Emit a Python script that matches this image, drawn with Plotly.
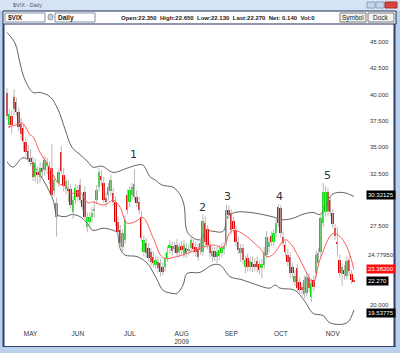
import plotly.graph_objects as go

# ---------------- data ----------------
opens = [40.2,37.1,38.0,39.8,39.3,38.3,37.2,36.8,35.5,34.6,34.0,33.6,32.2,32.6,32.2,33.0,32.8,33.2,33.1,33.0,
         30.8,28.4,31.6,34.5,32.4,31.0,31.0,31.0,28.8,30.0,30.9,31.4,30.0,30.7,27.4,27.9,28.4,28.9,30.0,31.2,
         32.3,31.6,30.2,30.5,30.8,30.6,29.8,27.9,27.1,25.5,26.2,30.5,29.8,30.5,30.3,30.3,29.8,28.4,25.0,25.9,
         25.4,25.0,24.6,23.8,24.1,24.0,23.6,23.6,24.5,25.4,25.6,25.3,25.7,25.0,25.6,24.8,25.4,25.1,25.4,25.9,
         25.5,25.3,25.2,25.0,27.8,27.2,25.6,24.7,25.1,24.6,24.7,24.9,25.3,26.0,29.0,28.7,28.0,27.1,26.0,24.9,
         25.4,23.6,24.5,23.6,24.1,23.9,24.2,23.9,23.5,23.8,24.8,25.5,26.6,26.0,26.8,29.3,29.2,26.5,25.7,24.8,
         24.6,23.6,22.2,23.5,22.2,21.7,21.0,21.1,22.6,20.8,22.4,23.0,24.0,25.0,27.8,28.8,30.7,30.0,28.7,27.3,
         26.0,24.3,22.9,23.3,22.8,24.3,22.9,22.35]
highs = [40.6,38.6,38.5,40.5,39.7,38.8,37.8,37.2,35.9,35.2,34.8,34.1,33.9,33.2,33.6,33.5,34.2,34.0,33.6,35.3,
         32.3,30.2,33.0,35.1,33.0,32.2,31.9,31.5,30.4,31.5,31.4,32.0,30.4,31.3,28.8,28.8,29.3,29.9,31.4,33.0,
         32.8,32.2,30.7,31.6,32.4,31.1,30.3,28.4,27.6,27.2,28.5,31.0,31.3,31.6,32.9,30.9,30.3,28.9,26.6,26.4,
         25.9,25.4,25.1,24.7,24.6,24.4,24.1,24.9,25.6,26.2,26.0,26.0,26.3,25.9,26.1,26.2,25.9,25.8,26.6,26.4,
         26.0,25.8,26.3,28.6,28.4,27.6,26.1,25.5,25.5,25.5,25.7,25.9,26.0,29.5,29.5,29.1,28.4,27.5,26.5,25.8,
         25.8,24.7,24.9,24.6,24.6,24.4,24.6,24.3,24.4,25.5,27.0,26.4,27.0,27.2,28.2,29.6,29.5,27.0,26.1,25.3,
         25.0,24.0,23.3,23.9,22.6,22.1,22.8,23.1,23.0,22.5,22.8,25.2,25.4,28.7,31.6,31.3,31.1,30.4,29.1,27.7,
         27.4,24.8,24.0,23.8,24.6,24.7,23.3,22.65]
lows = [37.6,36.8,36.3,38.0,38.0,36.5,35.7,34.6,34.0,33.5,33.2,31.8,31.7,31.5,31.6,32.0,32.3,32.4,31.5,30.2,
        30.3,26.5,31.2,32.4,30.8,30.5,29.8,29.2,28.2,29.6,29.9,29.7,29.0,28.0,26.9,27.5,27.8,28.3,29.6,30.8,
        31.3,29.7,29.3,29.9,30.4,29.4,27.5,26.5,25.5,25.1,25.8,28.6,29.3,30.0,29.9,29.3,28.6,26.0,24.6,24.5,
        24.1,23.7,23.6,23.4,23.1,22.7,22.8,23.2,24.1,24.9,24.7,25.0,24.6,24.6,24.8,24.5,24.5,24.7,25.0,24.9,
        24.6,24.2,24.8,24.7,25.6,25.3,24.5,24.1,24.2,24.0,24.3,24.5,24.8,25.6,28.2,26.7,26.8,25.6,24.8,24.1,
        23.9,23.0,23.2,23.2,23.1,23.2,23.1,22.9,22.5,23.4,24.4,25.0,25.6,25.6,26.4,27.4,26.4,25.5,24.6,23.7,
        22.6,22.6,21.8,21.2,21.0,20.9,20.6,20.8,21.2,20.3,21.3,22.6,23.6,24.6,27.4,28.4,28.5,28.4,27.3,26.2,
        24.6,22.6,21.8,22.4,22.4,22.8,22.0,22.13]
closes = [38.0,38.2,37.1,38.6,38.3,36.9,36.3,35.6,34.5,33.9,33.6,32.2,33.5,32.4,33.0,32.6,33.8,33.6,31.9,30.5,
          31.9,29.7,32.6,32.7,31.3,31.8,30.8,29.5,30.0,31.1,30.3,30.0,29.3,28.4,28.4,28.4,28.7,29.1,30.9,32.6,
          31.9,30.0,29.8,31.2,31.9,29.8,27.9,26.9,25.9,26.8,28.1,29.0,30.9,31.2,31.5,29.7,29.0,26.4,26.2,24.9,
          24.5,24.1,24.0,24.3,23.5,23.1,23.1,24.5,25.0,25.7,25.1,25.6,24.9,25.5,25.2,25.7,24.9,25.3,26.2,25.3,
          25.0,24.6,25.9,28.0,26.0,25.7,24.9,25.1,24.6,25.0,25.2,25.4,25.6,29.0,28.6,27.1,27.2,26.0,25.2,25.4,
          24.3,24.3,23.6,24.2,23.6,23.6,23.6,23.3,23.9,25.0,26.5,26.0,26.0,26.8,27.8,27.8,26.8,25.9,25.0,24.1,
          23.0,23.0,22.8,21.6,21.4,21.4,22.4,22.7,21.6,22.1,21.7,24.8,24.9,28.3,30.7,30.7,28.9,28.8,27.7,26.6,
          25.8,23.0,23.6,22.9,24.2,23.2,22.4,22.27]

upper_x = [0,3.4,5.5,7.6,11,14,18.2,21.6,24.6,27.5,30.9,34.3,36.4,40.3,44.9,50.8,55.1,57.6,60.6,62.7,65.7,70.3,
           73.3,75,76.3,78.8,81.8,84.7,91.5,93.6,96.6,103,112.3,117,122,125,129.7,132.6,134.7,137.7,142.4,147]
upper_v = [45.9,44.9,43.0,41.4,40.2,40.2,39.8,38.6,36.7,35.0,34.3,33.6,33.1,33.2,32.6,33.0,33.3,33.3,32.2,31.9,31.4,31.2,
           30.5,29.5,27.0,26.4,26.2,27.0,27.0,28.4,28.8,28.8,28.4,28.1,28.3,28.6,28.8,28.6,29.3,30.5,30.7,30.32]
lower_x = [0,2.5,6.8,10.6,15.3,19.5,21.2,24.6,27.5,30.9,33.9,36.4,40.7,44.9,46.6,47.9,50,55.1,59.3,63.6,66.1,70.3,
           72,74.6,76.3,81.8,86.9,90.3,94.5,99.6,106,111.4,113.6,115.7,122,126.3,129.7,133.9,136.9,144,147]
lower_v = [33.6,33.1,34.0,33.4,31.9,30.0,28.6,28.4,28.6,28.4,27.8,27.1,27.3,27.1,26.9,25.4,24.75,24.6,24.0,22.4,21.4,21.1,
           21.1,21.9,23.0,23.1,23.8,23.8,22.7,22.4,21.9,21.6,21.9,21.6,21.4,20.3,19.2,19.0,18.3,18.3,19.54]
ma_x = [0.4,3.4,6.4,9.7,11.0,14.0,18.2,21.6,25.4,26.7,30.9,34.3,36.4,40.7,43.6,44.9,47.9,50.8,54.2,57.6,61.9,66.1,
        72,76.3,81.8,87.3,91.5,94.5,96.6,101.7,104.2,107.2,110.2,112.7,117.8,119.9,124.2,127.1,129.7,132.6,138.1,
        141.1,144.1,147]
ma_v = [36.9,37.1,37.3,36.2,36.0,34.5,33.0,31.6,31.2,30.6,30.7,29.7,29.8,29.5,29.8,30.0,29.3,27.8,27.9,28.3,26.4,24.5,
        24.6,24.9,25.4,25.7,25.5,26.9,27.1,26.5,26.0,25.4,24.6,24.8,26.2,25.9,24.3,23.0,22.1,24.3,26.8,
        26.5,25.5,23.38]

month_idx = [10, 30, 52, 74, 95, 116, 138]
month_lbl = ["MAY", "JUN", "JUL", "AUG<br>2009", "SEP", "OCT", "NOV"]
ytick_vals = [20.0, 27.5, 32.5, 35.0, 37.5, 40.0, 42.5, 45.0]
wave_lbl = ["1", "2", "3", "4", "5"]
wave_x = [53.4, 83.0, 93.6, 115.3, 135.6]
wave_y = [34.3, 29.3, 30.3, 30.3, 32.3]
header = "Open:22.350  High:22.650  Low:22.130  Last:22.270  Net: 0.140  Vol:0"
side_txt = ["30.32125", "24.77950", "23.38200", "22.270", "19.53775"]
side_val = [30.45, 24.78, 23.42, 22.27, 19.25]

# ---------------- figure ----------------
W, H = 400, 353
L, R, T, B = 5, 40, 32, 25
pw, ph = W - L - R, H - T - B
FONT = "Liberation Sans"


def px(X):
    return (X - L) / pw


def py(Y):
    return (H - B - Y) / ph


n = len(closes)
idx = list(range(n))
GREEN, RED = "#00DD00", "#E00000"

wx, wy = [], []
for i in idx:
    wx += [i, i, None]
    wy += [lows[i], highs[i], None]

base = [min(o, c) for o, c in zip(opens, closes)]
hgt = [max(abs(c - o), 0.08) for o, c in zip(opens, closes)]
cols = [GREEN if c >= o else RED for o, c in zip(opens, closes)]

fig = go.Figure()
fig.add_trace(go.Scatter(x=upper_x, y=upper_v, mode="lines", line=dict(color="#505050", width=0.9, shape="spline"),
                         hoverinfo="skip"))
fig.add_trace(go.Scatter(x=lower_x, y=lower_v, mode="lines", line=dict(color="#505050", width=0.9, shape="spline"),
                         hoverinfo="skip"))
fig.add_trace(go.Scatter(x=wx, y=wy, mode="lines", line=dict(color="#b8b8b8", width=1), hoverinfo="skip"))
fig.add_trace(go.Bar(x=idx, base=base, y=hgt, marker=dict(color=cols, line=dict(width=0)), width=0.8))
fig.add_trace(go.Scatter(x=ma_x, y=ma_v, mode="lines", line=dict(color="#ff5a5a", width=1, shape="spline"),
                         hoverinfo="skip"))

x0 = -0.85
x1 = x0 + pw / 2.36
yv = lambda Y: 20 + (305 - Y) / 10.52
fig.update_xaxes(range=[x0, x1], tickmode="array", tickvals=month_idx, ticktext=month_lbl,
                 showgrid=False, zeroline=False, showline=False, ticks="",
                 tickfont=dict(family=FONT, size=6.5, color="#333333"))
fig.update_yaxes(range=[yv(H - B), yv(T)], side="right", tickmode="array", tickvals=ytick_vals,
                 ticktext=["%.3f" % v for v in ytick_vals], showgrid=False, zeroline=False, showline=False,
                 ticks="", ticklabelstandoff=9,
                 tickfont=dict(family=FONT, size=6, color="#333333"))

shapes = []


def rect(X0, Y0, X1, Y1, fill, line=None, lw=0, layer="below"):
    shapes.append(dict(type="rect", xref="paper", yref="paper", x0=px(X0), x1=px(X1), y0=py(Y1), y1=py(Y0),
                       fillcolor=fill, line=dict(color=line or fill, width=lw), layer=layer))


def hline(X0, X1, Y, color, lw=1):
    shapes.append(dict(type="line", xref="paper", yref="paper", x0=px(X0), x1=px(X1), y0=py(Y), y1=py(Y),
                       line=dict(color=color, width=lw), layer="above"))


def vline(X, Y0, Y1, color, lw=1):
    shapes.append(dict(type="line", xref="paper", yref="paper", x0=px(X), x1=px(X), y0=py(Y0), y1=py(Y1),
                       line=dict(color=color, width=lw), layer="above"))


rect(0, 0, 400, 11, "#d6e3f4")
rect(4, 24, 395, 346, "#ffffff")
rect(3, 11, 396, 24, "#ffffff", "#1c2c55", 1)
rect(5, 13, 45, 22, "#ffffff", "#8090a8", 1)
rect(55, 13, 95, 22, "#ffffff", "#8090a8", 1)
rect(340, 13, 366, 22, "#f2f2f2", "#7a7a7a", 1)
rect(368, 13, 394, 22, "#f2f2f2", "#7a7a7a", 1)
rect(367, 2, 375, 8, "#c6d5ea", "#8aa0c0", 1)
rect(376, 2, 384, 8, "#c6d5ea", "#8aa0c0", 1)
rect(385, 2, 397, 8, "#d8453a", "#a03028", 1)
shapes.append(dict(type="circle", xref="paper", yref="paper", x0=px(48), x1=px(53), y0=py(20), y1=py(14),
                   fillcolor="#c8d0dc", line=dict(color="#8a94a4", width=1)))
vline(3.5, 24, 347, "#2c4070", 2)
vline(394.5, 24, 347, "#2c4070", 2)
hline(3, 396, 346.5, "#2c4070", 1)

ann = []


def txt(X, Y, s, size=6, color="#222222", anchor="left", bold=False, bg=None, fam=FONT):
    ann.append(dict(x=px(X), y=py(Y), xref="paper", yref="paper", text=("<b>%s</b>" % s) if bold else s,
                    showarrow=False, xanchor=anchor, yanchor="middle",
                    font=dict(family=fam, size=size, color=color), bgcolor=bg, borderpad=0))


txt(12, 5, "$VIX - Daily", size=5.5, color="#4a5a70")
txt(7, 17.5, "$VIX", size=6.5, bold=True)
txt(57, 17.5, "Daily", size=6.5, bold=True)
txt(218, 17.5, header, size=6, anchor="center", bold=True, color="#1a1a1a")
txt(353, 17.5, "Symbol", size=6.5, anchor="center")
txt(381, 17.5, "Dock", size=6.5, anchor="center")

for s, x, y in zip(wave_lbl, wave_x, wave_y):
    ann.append(dict(x=x, y=y, xref="x", yref="y", text=s, showarrow=False,
                    font=dict(family="DejaVu Sans", size=11, color="#2a3440")))

side_bg = ["#000000", None, "#ff1010", "#000000", "#000000"]
side_fc = ["#ffffff", "#333333", "#ffffff", "#ffffff", "#ffffff"]
for s, v, bg, fc in zip(side_txt, side_val, side_bg, side_fc):
    ann.append(dict(x=px(366), y=v, xref="paper", yref="y", text=s, showarrow=False, xanchor="left",
                    yanchor="middle", font=dict(family=FONT, size=6, color=fc), bgcolor=bg,
                    borderpad=1))

fig.update_layout(width=W, height=H, margin=dict(l=L, r=R, t=T, b=B, pad=0), showlegend=False,
                  paper_bgcolor="#bcd0ea", plot_bgcolor="rgba(0,0,0,0)", barmode="overlay", bargap=0,
                  shapes=shapes, annotations=ann, font=dict(family=FONT))
fig.write_html("out.html", config={"displayModeBar": False})
